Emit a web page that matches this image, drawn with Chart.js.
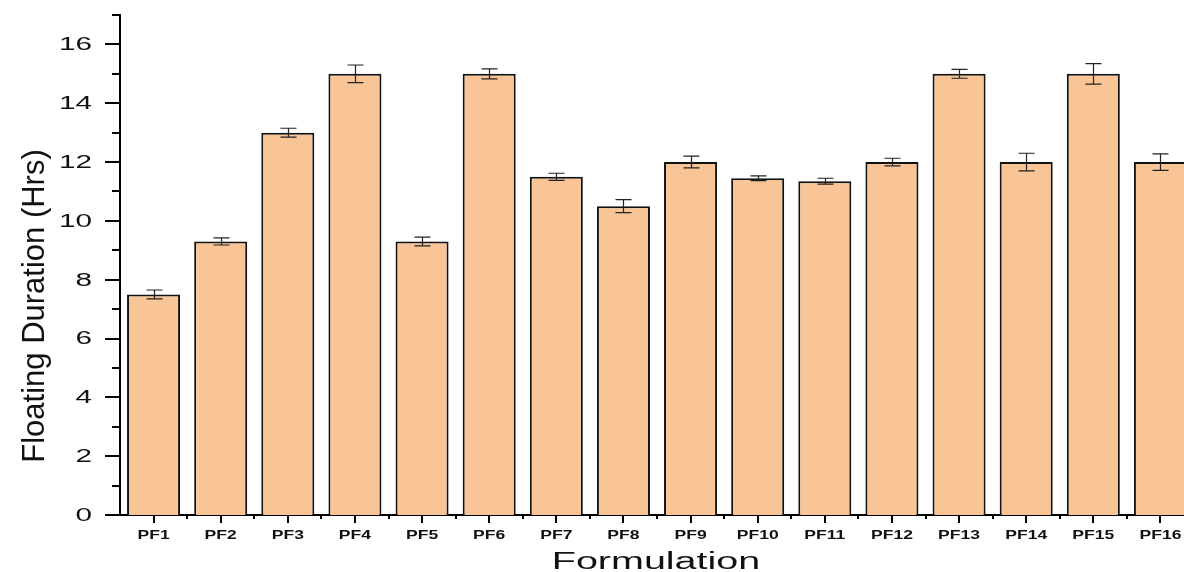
<!DOCTYPE html>
<html>
<head>
<meta charset="utf-8">
<script src="https://cdn.jsdelivr.net/npm/chart.js@4"></script>
<style>
  html, body { margin: 0; padding: 0; background: #fff; overflow: hidden; }
  #wrap { width: 1200px; height: 572px; }
</style>
</head>
<body>
<div id="wrap"><canvas id="floatChart" width="1200" height="572"></canvas></div>
<script>
const formulations = ['PF1', 'PF2', 'PF3', 'PF4', 'PF5', 'PF6', 'PF7', 'PF8',
                      'PF9', 'PF10', 'PF11', 'PF12', 'PF13', 'PF14', 'PF15', 'PF16'];
const durations = [7.5, 9.3, 13.0, 15.0, 9.3, 15.0, 11.5, 10.5,
                   12.0, 11.45, 11.35, 12.0, 15.0, 12.0, 15.0, 12.0];
const errors = [0.15, 0.12, 0.15, 0.3, 0.15, 0.17, 0.12, 0.22,
                0.2, 0.08, 0.1, 0.13, 0.15, 0.3, 0.35, 0.28];
const yTicks = [0, 2, 4, 6, 8, 10, 12, 14, 16];
const xTitle = 'Formulation';
const yTitle = 'Floating Duration (Hrs)';

const FONT = '"Liberation Sans", Arial, sans-serif';

// the original figure is stretched sideways, so horizontal text is drawn wide
function wideText(ctx, text, x, y, sx, align) {
    ctx.save();
    ctx.translate(x, y);
    ctx.scale(sx, 1);
    ctx.textAlign = align;
    ctx.fillText(text, 0, 0);
    ctx.restore();
}

// error bars, Origin-style outside ticks and all the text
const extrasPlugin = {
    id: 'extras',
    afterDatasetsDraw(chart) {
        const ctx = chart.ctx;
        const y = chart.scales.y;
        const meta = chart.getDatasetMeta(0);
        ctx.save();
        ctx.strokeStyle = '#222';
        ctx.lineWidth = 1.2;
        meta.data.forEach((bar, i) => {
            const cx = Math.round(bar.x) + 0.5;
            const top = y.getPixelForValue(durations[i] + errors[i]);
            const bot = y.getPixelForValue(durations[i] - errors[i]);
            ctx.beginPath();
            ctx.moveTo(cx, top); ctx.lineTo(cx, bot);
            ctx.moveTo(cx - 8, top); ctx.lineTo(cx + 8, top);
            ctx.moveTo(cx - 8, bot); ctx.lineTo(cx + 8, bot);
            ctx.stroke();
        });
        ctx.restore();
    },
    afterDraw(chart) {
        const ctx = chart.ctx;
        const x = chart.scales.x;
        const y = chart.scales.y;
        const area = chart.chartArea;
        ctx.save();
        ctx.strokeStyle = '#000';
        ctx.lineWidth = 2;
        ctx.beginPath();
        // y ticks: major every 2, minor in between
        for (let v = 0; v <= 17; v++) {
            const py = Math.round(y.getPixelForValue(v));
            const len = (v % 2 === 0) ? 15 : 8;
            ctx.moveTo(area.left, py);
            ctx.lineTo(area.left - len, py);
        }
        // x ticks: major at categories, minor at boundaries
        formulations.forEach((f, i) => {
            const px = Math.round(x.getPixelForValue(i));
            ctx.moveTo(px, area.bottom);
            ctx.lineTo(px, area.bottom + 8);
            const bx = Math.round(x.getPixelForValue(i + 0.5));
            ctx.moveTo(bx, area.bottom);
            ctx.lineTo(bx, area.bottom + 4);
        });
        ctx.stroke();

        ctx.fillStyle = '#111';
        ctx.textBaseline = 'middle';
        // y tick labels
        ctx.font = '18px ' + FONT;
        yTicks.forEach(v => {
            wideText(ctx, String(v), area.left - 28, y.getPixelForValue(v) + 1, 1.65, 'right');
        });
        // x tick labels
        ctx.font = 'bold 13px ' + FONT;
        formulations.forEach((f, i) => {
            wideText(ctx, f, x.getPixelForValue(i), area.bottom + 20, 1.35, 'center');
        });
        // axis titles
        ctx.textBaseline = 'alphabetic';
        ctx.font = '23.5px ' + FONT;
        wideText(ctx, xTitle, 656, 569, 1.68, 'center');

        ctx.font = '31px ' + FONT;
        ctx.translate(44, 306);
        ctx.rotate(-Math.PI / 2);
        ctx.textAlign = 'center';
        ctx.fillText(yTitle, 0, 0);
        ctx.restore();
    }
};

new Chart(document.getElementById('floatChart'), {
    type: 'bar',
    data: {
        labels: formulations,
        datasets: [{
            data: durations,
            backgroundColor: '#F9C596',
            borderColor: '#111',
            borderWidth: 2,
            borderSkipped: 'bottom',
            categoryPercentage: 1.0,
            barPercentage: 0.79
        }]
    },
    options: {
        responsive: false,
        animation: false,
        layout: { padding: { top: 15, right: 6, left: 0, bottom: 0 } },
        plugins: {
            legend: { display: false },
            tooltip: { enabled: false }
        },
        scales: {
            x: {
                grid: { display: false, drawTicks: false },
                border: { display: true, color: '#000', width: 2 },
                ticks: { display: false },
                afterFit(scale) { scale.height = 57; }
            },
            y: {
                min: 0,
                max: 17,
                grid: { display: false, drawTicks: false },
                border: { display: true, color: '#000', width: 2 },
                ticks: { display: false },
                afterFit(scale) { scale.width = 120; }
            }
        }
    },
    plugins: [extrasPlugin]
});
</script>
</body>
</html>
